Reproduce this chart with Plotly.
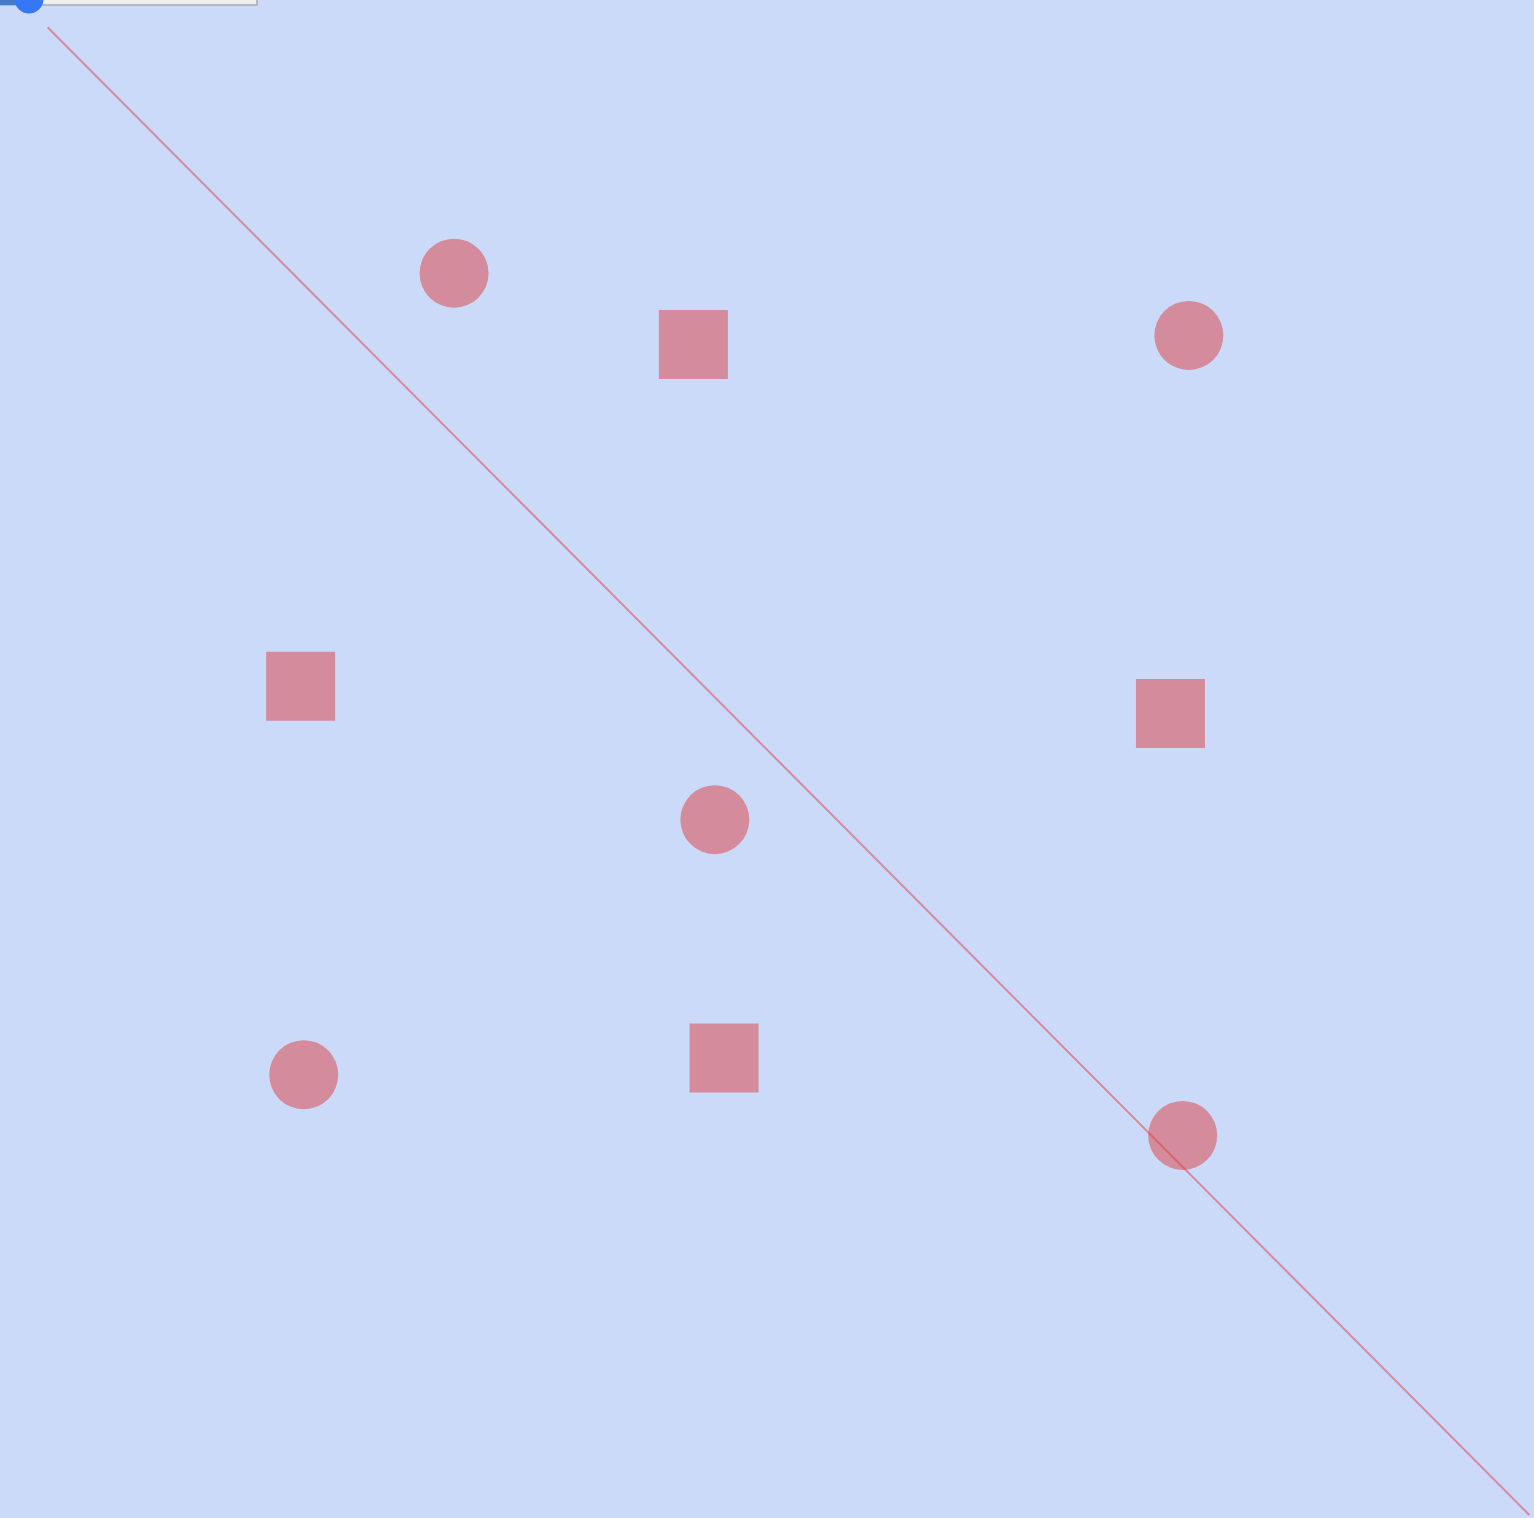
import plotly.graph_objects as go

# marker positions, axis units 0-100
circle_x = [29.6, 77.5, 46.6, 19.8, 77.1]
circle_y = [82.0, 77.9, 46.0, 29.2, 25.2]
square_x = [45.2, 19.6, 76.3, 47.2]
square_y = [77.3, 54.8, 53.0, 30.3]
line_x = [3.1, 99.7]
line_y = [98.2, 0.2]

W, H = 1534, 1518
BG = "#ccdafa"
MARK = "rgb(220,60,60)"


def px(x):
    return x / W


def py(y):
    return 1 - y / H


fig = go.Figure()

fig.add_trace(go.Scatter(
    x=circle_x, y=circle_y, mode="markers",
    marker=dict(symbol="circle", size=69, color=MARK, opacity=0.5, line=dict(width=0)),
    hoverinfo="skip", showlegend=False,
))
fig.add_trace(go.Scatter(
    x=square_x, y=square_y, mode="markers",
    marker=dict(symbol="square", size=69, color=MARK, opacity=0.5, line=dict(width=0)),
    hoverinfo="skip", showlegend=False,
))
fig.add_trace(go.Scatter(
    x=line_x, y=line_y, mode="lines",
    line=dict(color=MARK, width=2), opacity=0.5,
    hoverinfo="skip", showlegend=False,
))

# range slider widget at the top-left, mostly cut off
shapes = [
    # track
    dict(type="rect", xref="paper", yref="paper",
         x0=px(-6), x1=px(257), y0=py(-12), y1=py(5),
         fillcolor="#efefef", line=dict(color="#aaaaaa", width=1.5), layer="above"),
    # filled part
    dict(type="rect", xref="paper", yref="paper",
         x0=px(-6), x1=px(28), y0=py(-12), y1=py(5),
         fillcolor="#4a78c8", line=dict(color="#4a78c8", width=0), layer="above"),
    # thumb
    dict(type="circle", xref="paper", yref="paper",
         x0=px(14.5), x1=px(43.5), y0=py(-15.5), y1=py(13.5),
         fillcolor="#3478f6", line=dict(color="#3478f6", width=0), layer="above"),
]

fig.update_layout(
    width=W, height=H,
    margin=dict(l=0, r=0, t=0, b=0),
    paper_bgcolor=BG, plot_bgcolor=BG,
    shapes=shapes,
    xaxis=dict(range=[0, 100], visible=False, fixedrange=True),
    yaxis=dict(range=[0, 100], visible=False, fixedrange=True),
    showlegend=False,
)

fig.write_html(
    "out.html",
    config={"displayModeBar": False},
    post_script="document.body.style.margin='0';document.body.style.overflow='hidden';",
)
